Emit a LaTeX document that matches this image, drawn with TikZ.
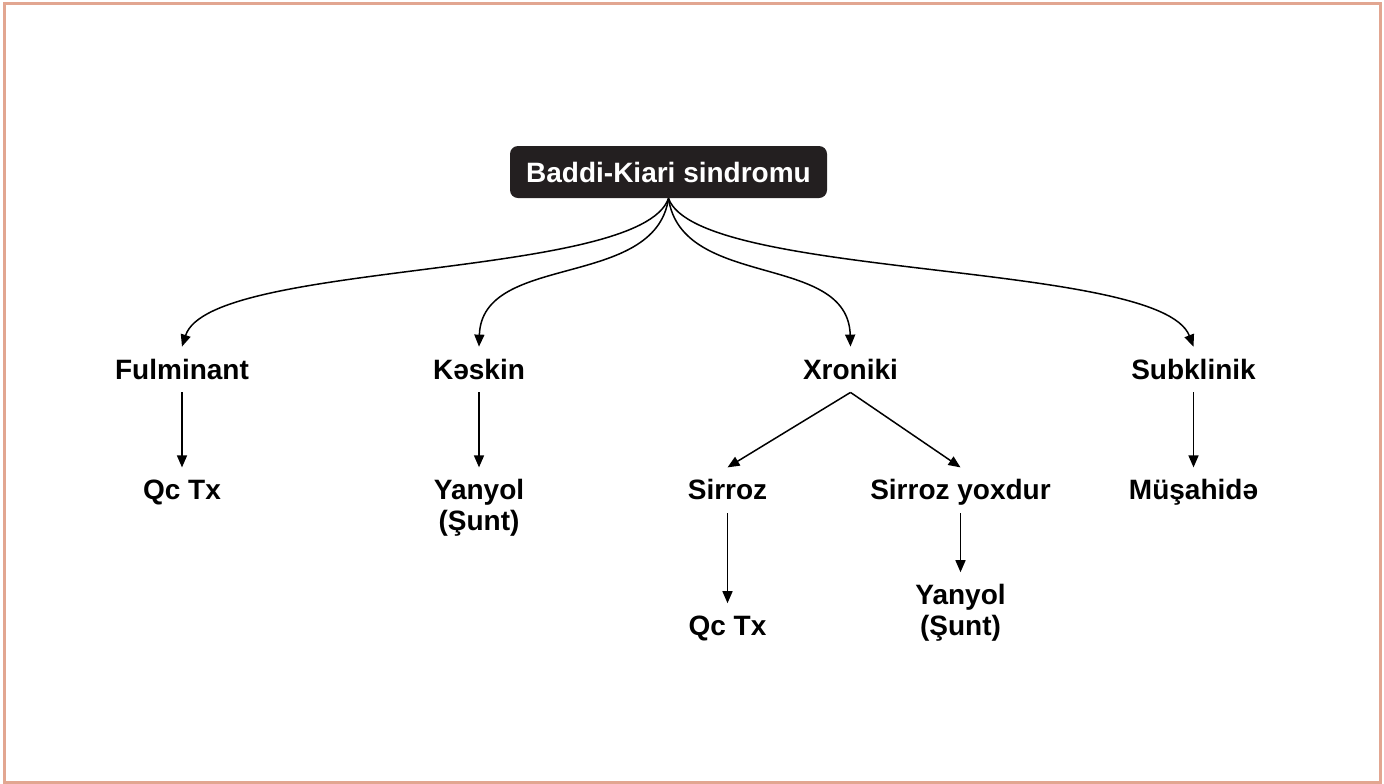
\documentclass[tikz,border=0pt]{standalone}
\usepackage{fontspec}
\setmainfont{Liberation Sans}
\usetikzlibrary{arrows.meta, positioning}
\definecolor{frameline}{HTML}{E2A691}
\definecolor{rootfill}{HTML}{231F20}
\newcommand{\bksFont}{\bfseries\fontsize{14}{15.5}\selectfont}

\begin{document}
\begin{tikzpicture}[
                x=0.5pt, y=-0.5pt,
                rootbox/.style={fill=rootfill, text=white, rounded corners=4pt, minimum width=158.5pt, minimum height=26pt, font=\bksFont},
                lbl/.style={inner sep=4pt, text height=12pt, text depth=2.5pt, font=\bksFont},
                lbltwo/.style={inner xsep=4pt, inner ysep=5.8pt, align=center, font=\bksFont},
                link/.style={-{Triangle[length=6pt, width=5pt]}, line width=0.75pt}
            ]

                \useasboundingbox (0,0) rectangle (1384,783);
                \draw[frameline, line width=1.5pt] (4.5,3.8) rectangle (1380.3,782);

                \node[rootbox] (bks) at (668.5,172) {Baddi-Kiari sindromu};

                \node[lbl, anchor=base] (fulm) at (182,379)    {Fulminant};
                \node[lbl, anchor=base] (kesk) at (479,379)    {Kəskin};
                \node[lbl, anchor=base] (xron) at (850.5,379)  {Xroniki};
                \node[lbl, anchor=base] (subk) at (1193.5,379) {Subklinik};

                \node[lbl]    (fulm_tx)  [below = 37.5pt of fulm] {Qc Tx};
                \node[lbltwo] (kesk_sh)  [below = 37.5pt of kesk] {Yanyol\\(Şunt)};
                \node[lbl]    (subk_mu)  [below = 37.5pt of subk] {Müşahidə};

                \node[lbl] (sirr)   [below = 37.5pt of xron, xshift=-61.5pt] {Sirroz};
                \node[lbl] (sirr_n) [below = 37.5pt of xron, xshift=55pt]    {Sirroz yoxdur};

                \node[lbl]    (sirr_tx) [below = 45pt of sirr]     {Qc Tx};
                \node[lbltwo] (sirr_sh) [below = 29.5pt of sirr_n] {Yanyol\\(Şunt)};

                % curved branches from the root
                \draw[link] (bks.south) .. controls (640,280) and (210,260) .. (fulm.north);
                \draw[link] (bks.south) .. controls (655,290) and (482,252) .. (kesk.north);
                \draw[link] (bks.south) .. controls (682,290) and (848,252) .. (xron.north);
                \draw[link] (bks.south) .. controls (698,280) and (1160,260) .. (subk.north);

                \draw[link] (fulm) -- (fulm_tx);
                \draw[link] (kesk) -- (kesk_sh);
                \draw[link] (subk) -- (subk_mu);
                \draw[link] (xron.south) -- (sirr.north);
                \draw[link] (xron.south) -- (sirr_n.north);
                \draw[link] (sirr) -- (sirr_tx);
                \draw[link] (sirr_n) -- (sirr_sh);

            \end{tikzpicture}
\end{document}
